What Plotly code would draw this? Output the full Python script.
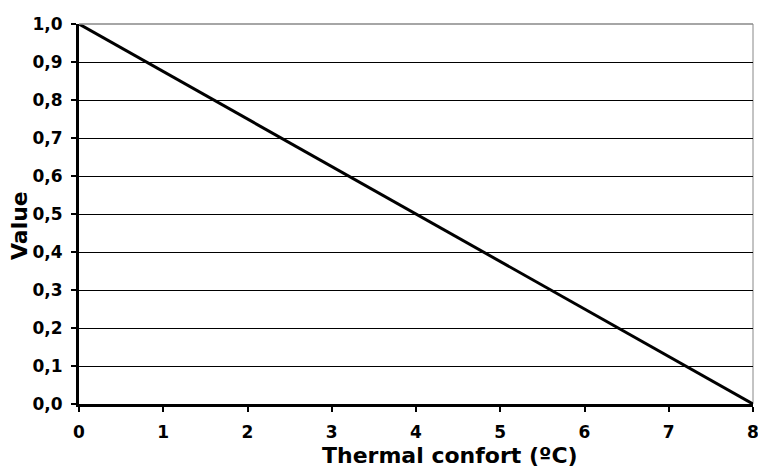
import plotly.graph_objects as go

x_vals = [0, 8]
y_vals = [1.0, 0.0]
x_ticks = [0, 1, 2, 3, 4, 5, 6, 7, 8]
y_ticks = [0.0, 0.1, 0.2, 0.3, 0.4, 0.5, 0.6, 0.7, 0.8, 0.9, 1.0]
x_title = "Thermal confort (ºC)"
y_title = "Value"

W, H = 758, 471
L, R, T, B = 79, 5, 24, 67

fig = go.Figure()
fig.add_trace(go.Scatter(x=x_vals, y=y_vals, mode="lines",
                         line=dict(color="black", width=3), showlegend=False,
                         cliponaxis=False))

font = "DejaVu Sans, Arial, sans-serif"
tickfont = dict(size=17, family=font, weight="bold", color="black")
fig.update_layout(
    width=W, height=H,
    margin=dict(l=L, r=R, t=T, b=B, autoexpand=False),
    paper_bgcolor="white", plot_bgcolor="white",
    separators=",.",
    font=dict(family=font, color="black"),
    xaxis=dict(range=[0, 8], tickvals=x_ticks, showgrid=False, zeroline=False,
               showline=True, linecolor="black", linewidth=3,
               ticks="outside", ticklen=5, tickwidth=2, tickcolor="black",
               tickfont=tickfont, ticklabelstandoff=6, automargin=False,
               ticklabeloverflow="allow"),
    yaxis=dict(range=[0, 1], tickvals=y_ticks, tickformat=".1f",
               showgrid=True, gridcolor="black", gridwidth=1, zeroline=False,
               showline=True, linecolor="black", linewidth=3,
               ticks="outside", ticklen=5, tickwidth=2, tickcolor="black",
               tickfont=tickfont, ticklabelstandoff=5, automargin=False,
               ticklabeloverflow="allow"),
    shapes=[
        dict(type="line", xref="paper", yref="paper", x0=0, x1=1, y0=1, y1=1,
             line=dict(color="#888888", width=1.5), layer="above"),
        dict(type="line", xref="paper", yref="paper", x0=1, x1=1, y0=0, y1=1,
             line=dict(color="#888888", width=1), layer="below"),
    ],
    annotations=[
        dict(text="<b>" + x_title + "</b>", xref="paper", yref="paper",
             x=(450 - L) / (W - L - R), y=-(455 - (H - B)) / (H - T - B),
             xanchor="center", yanchor="middle", showarrow=False,
             font=dict(size=22, family=font, color="black")),
        dict(text="<b>" + y_title + "</b>", xref="paper", yref="paper",
             x=-(L - 19) / (W - L - R), y=(H - B - 225) / (H - T - B),
             xanchor="center", yanchor="middle", showarrow=False, textangle=-90,
             font=dict(size=22, family=font, color="black")),
    ],
)

fig.write_html("out.html", config={"displayModeBar": False})
with open("out.html", "r", encoding="utf-8") as f:
    html = f.read()
html = html.replace("<head>", "<head><style>html,body{margin:0;padding:0;overflow:hidden;}</style>", 1)
with open("out.html", "w", encoding="utf-8") as f:
    f.write(html)
